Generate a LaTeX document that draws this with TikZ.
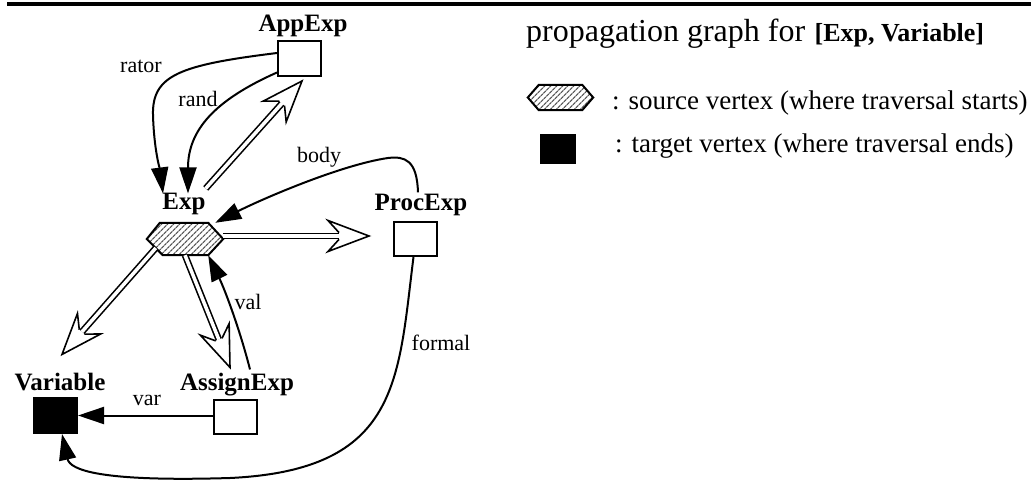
\documentclass[tikz,border=0pt]{standalone}
\usepackage{fontspec}
\setmainfont{Liberation Serif}
\usetikzlibrary{arrows.meta,calc,patterns.meta}
\tikzset{
  vbox/.style={draw, line width=2pt, minimum width=43pt, minimum height=35pt, inner sep=0pt, fill=white},
  lbl/.style={font=\bfseries\fontsize{25}{30}\selectfont, inner sep=0pt},
  elbl/.style={font=\fontsize{22}{26}\selectfont, inner sep=0pt},
  edge/.style={draw, line width=2pt, -{Triangle[length=26pt,width=17pt]}},
  dblshaft/.style={draw, line width=1.6pt, double=white, double distance=3.5pt},
  headstyle/.style={draw, line width=1.6pt, fill=white, line join=miter},
  hexfill/.style={draw, line width=2pt, line join=miter, pattern={Lines[angle=45,distance=4pt,line width=1.3pt]}, pattern color=black!65},
  hexnode/.style={inner sep=0pt, minimum width=76pt, minimum height=32pt},
}
\newcommand{\hollowarrow}[2]{%
  \coordinate (ha) at (#1);
  \coordinate (hb) at (#2);
  \draw[dblshaft] (ha) -- ($(hb)!30pt!(ha)$);
  \filldraw[headstyle] let \p1=($(hb)-(ha)$), \n1={atan2(\y1,\x1)} in
    ($(hb)+(\n1+180:30pt)+(\n1+90:3.4pt)$) -- ($(hb)+(\n1+180:41pt)+(\n1+90:15.5pt)$) --
    (hb) -- ($(hb)+(\n1+180:41pt)+(\n1-90:15.5pt)$) -- ($(hb)+(\n1+180:30pt)+(\n1-90:3.4pt)$);
}
\begin{document}
\begin{tikzpicture}[x=1pt,y=-1pt]
\useasboundingbox (0,0) rectangle (1031,481);
% top rule
\coordinate (ruleL) at (7,4);
\coordinate (ruleR) at (1031,4);
\draw[line width=4pt] (ruleL) -- (ruleR);

% vertices
\node[vbox] (appexp) at (299.5,58.5) {};
\node[lbl, anchor=base] (appexpl) at (303,31.5) {AppExp};

\node[hexnode] (exp) at (185,239) {};
\path[hexfill] (exp.west) -- ($(exp.north west)+(13,0)$) -- ($(exp.north east)+(-15,0)$) -- (exp.east) -- ($(exp.south east)+(-15,0)$) -- ($(exp.south west)+(16,0)$) -- cycle;
\node[lbl, anchor=base] (expl) at (184,210) {Exp};

\node[vbox, minimum height=34pt] (procexp) at (415.5,239) {};
\node[lbl, anchor=base] (procexpl) at (421,211) {ProcExp};

\node[vbox, fill=black] (variable) at (55.5,415.5) {};
\node[lbl, anchor=base] (variablel) at (60,390) {Variable};

\node[vbox, minimum height=34pt] (assignexp) at (235.5,417) {};
\node[lbl, anchor=base] (assignexpl) at (237,390) {AssignExp};

% single edges
\draw[edge] ([yshift=5.5pt]appexp.west) .. controls (180,65) and (152,75) .. (153,115) .. controls (154,150) and (160,170) .. ($(expl.north)+(-21,0)$);
\node[elbl] (rator) at (141,66) {rator};

\draw[edge] ([yshift=4.5pt]appexp.south west) .. controls (215,100) and (188,130) .. ($(expl.north)+(4,0)$);
\node[elbl] (rand) at (198,99) {rand};

\draw[edge] ($(procexpl.north)+(-3,-2)$) .. controls (417,160) and (405,156) .. (388,158) .. controls (340,165) and (260,200) .. ($(exp.north east)+(-8,0)$);
\node[elbl] (body) at (319,157) {body};

\draw[edge] ($(assignexpl.north)+(13,-3)$) .. controls (240,330) and (225,290) .. ($(exp.south east)+(-15,0)$);
\node[elbl] (val) at (248,302) {val};

\draw[edge] (assignexp.west |- variable) -- (variable.east);
\node[elbl] (var) at (147,400) {var};

\draw[edge] ([xshift=-2pt]procexp.south) .. controls (398,380) and (400,470) .. (230,478) .. controls (100,482) and (70,470) .. ([xshift=6.5pt]variable.south);
\node[elbl] (formal) at (441,343) {formal};

% propagation (hollow double) arrows
\hollowarrow{[yshift=5pt]expl.north east}{[xshift=2.5pt,yshift=-4pt]appexp.south}
\hollowarrow{[yshift=3pt]exp.east}{[xshift=-24pt,yshift=3pt]procexp.west}
\hollowarrow{exp.south}{[xshift=-7pt,yshift=5pt]assignexpl.north}
\hollowarrow{$(exp.west)+(9,9)$}{[xshift=2pt,yshift=18pt]variablel.north}

% legend
\node[anchor=base west, font=\fontsize{32}{38}\selectfont, inner sep=0pt] (title) at (526,42) {propagation graph for};
\node[anchor=base west, font=\bfseries\fontsize{26}{31}\selectfont, inner sep=0pt] (titleb) at ($(title.base east)+(9,0)$) {[Exp, Variable]};

\node[inner sep=0pt, minimum width=65pt, minimum height=25pt] (srchex) at (560.5,97.5) {};
\path[hexfill] (srchex.west) -- ($(srchex.north west)+(11,0)$) -- ($(srchex.north east)+(-11,0)$) -- (srchex.east) -- ($(srchex.south east)+(-11,0)$) -- ($(srchex.south west)+(11,0)$) -- cycle;
\node[anchor=base west, font=\fontsize{27}{32}\selectfont, inner sep=0pt] (srctext) at (612,110) {: source vertex (where traversal starts)};

\node[draw, fill=black, line width=1pt, minimum width=35pt, minimum height=29pt, inner sep=0pt] (tgtbox) at (557.5,149.5) {};
\node[anchor=base west, font=\fontsize{27}{32}\selectfont, inner sep=0pt] (tgttext) at (615,153) {: target vertex (where traversal ends)};
\end{tikzpicture}
\end{document}
